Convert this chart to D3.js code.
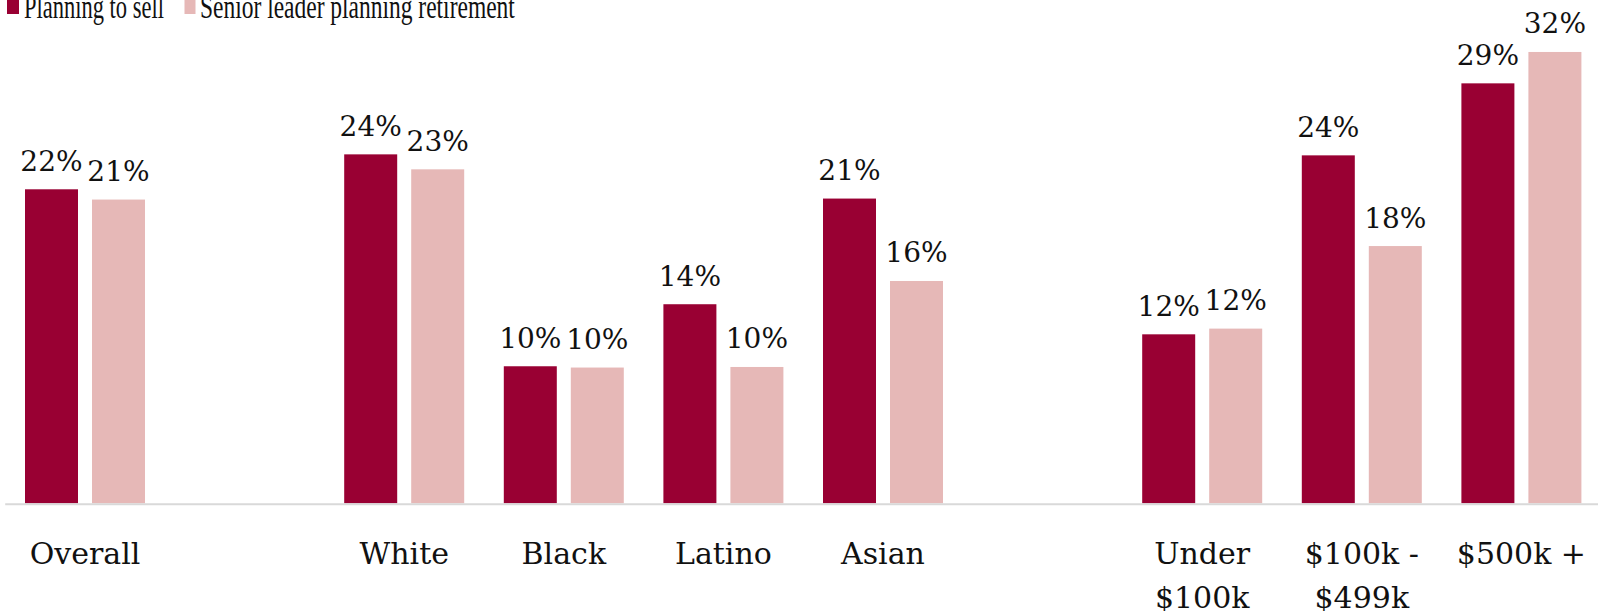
<!DOCTYPE html>
<html>
<head>
<meta charset="utf-8">
<script src="https://cdn.jsdelivr.net/npm/d3@7"></script>
<style>
  html, body { margin: 0; padding: 0; background: #fff; }
  svg { display: block; }
</style>
</head>
<body>
<svg id="chart" width="1598" height="611"></svg>
<script>
// Categories, grouped: a blank slot separates each group on the x axis
const categories = ["Overall", "White", "Black", "Latino", "Asian", "Under $100k", "$100k - $499k", "$500k +"];
const categoryGroup = ["All", "Race", "Race", "Race", "Race", "Revenue", "Revenue", "Revenue"];
const seriesNames = ["Planning to sell", "Senior leader planning retirement"];
const planningToSell = [22.02, 24.47, 9.61, 13.96, 21.37, 11.85, 24.40, 29.45];
const leaderRetirement = [21.30, 23.42, 9.52, 9.56, 15.59, 12.25, 18.04, 31.65];
const seriesValues = [planningToSell, leaderRetirement];
const seriesColors = ["#990033", "#E6B8B7"];
const yMax = 35;

const svg = d3.select("#chart");
const W = 1598;
const baseY = 503.3;

// Band domain with spacer slots inserted between groups
const slots = [];
categories.forEach((c, i) => {
  if (i > 0 && categoryGroup[i] !== categoryGroup[i - 1]) slots.push("spacer-" + i);
  slots.push(c);
});

const x0 = d3.scaleBand().domain(slots).range([5.2, 5.2 + slots.length * 159.6]).padding(0);
const x1 = d3.scaleBand().domain(seriesNames).range([0, x0.bandwidth()])
  .paddingInner(0.209).paddingOuter(0.2955);
const y = d3.scaleLinear().domain([0, yMax]).range([baseY, baseY - yMax * 14.26]);

const rows = categories.map((c, i) => ({
  category: c,
  values: seriesNames.map((s, k) => ({ series: s, value: seriesValues[k][i], color: seriesColors[k] }))
}));

const fmt = v => d3.format(".0f")(v) + "%";

const groups = svg.append("g").selectAll("g")
  .data(rows).join("g")
  .attr("transform", d => `translate(${x0(d.category)},0)`);

groups.selectAll("rect")
  .data(d => d.values).join("rect")
  .attr("x", d => x1(d.series))
  .attr("width", x1.bandwidth())
  .attr("y", d => y(d.value))
  .attr("height", d => baseY - y(d.value))
  .attr("fill", d => d.color);

groups.selectAll("text.val")
  .data(d => d.values).join("text")
  .attr("class", "val")
  .attr("x", d => x1(d.series) + x1.bandwidth() / 2)
  .attr("y", d => y(d.value) - 18.5)
  .attr("text-anchor", "middle")
  .attr("font-family", "DejaVu Serif")
  .attr("font-size", 28)
  .attr("fill", "#111")
  .text(d => fmt(d.value));

// Category axis
const axis = d3.axisBottom(x0)
  .tickSize(0)
  .tickSizeOuter(0)
  .tickFormat(d => d.startsWith("spacer-") ? "" : d);

const ax = svg.append("g")
  .attr("transform", `translate(0,${baseY + 1})`)
  .call(axis);

ax.select(".domain").attr("stroke", "#D9D9D9").attr("stroke-width", 2)
  .attr("d", `M${x0.range()[0]},0H${W + 10}`);

ax.selectAll(".tick text")
  .attr("font-family", "DejaVu Serif")
  .attr("font-size", 30)
  .attr("fill", "#111")
  .attr("y", 60)
  .attr("dy", 0)
  .each(function () { wrap(d3.select(this), 140, 44); });

function wrap(text, width, lineHeight) {
  const words = text.text().split(/\s+/).filter(w => w.length);
  text.text(null);
  let line = [];
  let tspan = text.append("tspan").attr("x", 0).attr("dy", 0);
  words.forEach(w => {
    line.push(w);
    tspan.text(line.join(" "));
    if (tspan.node().getComputedTextLength() > width && line.length > 1) {
      line.pop();
      tspan.text(line.join(" "));
      line = [w];
      tspan = text.append("tspan").attr("x", 0).attr("dy", lineHeight).text(w);
    }
  });
}

// Legend: condensed serif labels, squeezed horizontally to a target width
const legendItems = [
  { name: seriesNames[0], color: seriesColors[0], sx: 7, sw: 12, tx: 24, tl: 140 },
  { name: seriesNames[1], color: seriesColors[1], sx: 184.5, sw: 11, tx: 200, tl: 315 }
];
const legend = svg.append("g");
legend.selectAll("rect").data(legendItems).join("rect")
  .attr("x", d => d.sx).attr("y", -1)
  .attr("width", d => d.sw).attr("height", 15)
  .attr("fill", d => d.color);
legend.selectAll("g.item").data(legendItems).join("g")
  .attr("class", "item")
  .each(function (d) {
    const g = d3.select(this);
    const t = g.append("text")
      .attr("x", 0).attr("y", 0)
      .attr("font-family", "Liberation Serif")
      .attr("font-size", 33)
      .attr("fill", "#111")
      .text(d.name);
    const k = d.tl / t.node().getComputedTextLength();
    g.attr("transform", `translate(${d.tx},17.7) scale(${k},1)`);
  });
</script>
</body>
</html>
